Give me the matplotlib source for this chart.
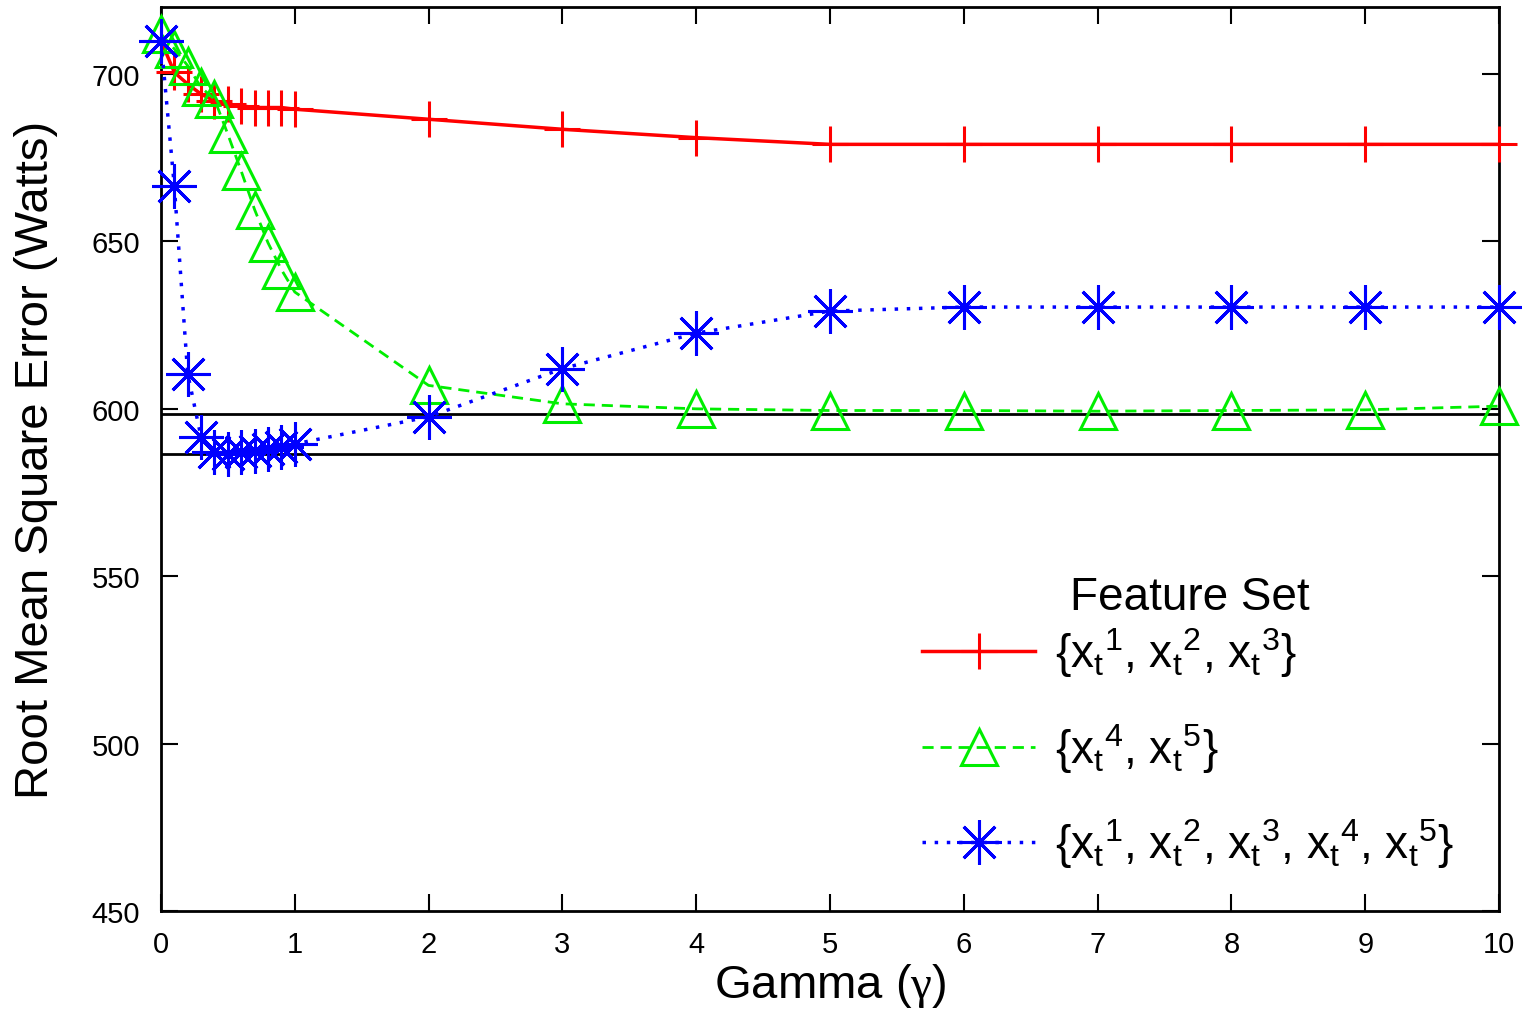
import numpy as np
import matplotlib
matplotlib.use('Agg')
import matplotlib.pyplot as plt

plt.rcParams['font.family'] = ['Liberation Sans', 'DejaVu Sans']
plt.rcParams['mathtext.fontset'] = 'custom'
plt.rcParams['mathtext.rm'] = 'Liberation Sans'
plt.rcParams['mathtext.it'] = 'Liberation Sans'
plt.rcParams['mathtext.sf'] = 'Liberation Serif'
plt.rcParams['mathtext.default'] = 'regular'

# gamma values
gamma = [0, 0.1, 0.2, 0.3, 0.4, 0.5, 0.6, 0.7, 0.8, 0.9, 1, 2, 3, 4, 5, 6, 7, 8, 9, 10]

rmse_x123 = [710, 700.5, 697, 694, 692, 691, 690.5, 690, 690, 690, 689.5,
             686.5, 683.5, 681, 679, 679, 679, 679, 679, 679]
rmse_x45 = [712, 707.5, 702.5, 696, 692.5, 682, 671, 659.5, 649.6, 641.6, 634.9,
            607, 601.5, 600, 599.5, 599.5, 599.3, 599.5, 599.7, 600.8]
rmse_all = [710, 666.5, 610.5, 591.5, 587, 586.5, 587, 587.5, 588, 588.5, 589.5,
            597.6, 612, 622.6, 629.2, 630.4, 630.4, 630.4, 630.4, 630.4]

ref_lines = [598.5, 586.5]

labels = [r'{$x_t{}^1$, $x_t{}^2$, $x_t{}^3$}',
          r'{$x_t{}^4$, $x_t{}^5$}',
          r'{$x_t{}^1$, $x_t{}^2$, $x_t{}^3$, $x_t{}^4$, $x_t{}^5$}']

fig = plt.figure(figsize=(15.27, 10.12), dpi=100)
ax = fig.add_axes([0.1054, 0.0988, 0.8763, 0.8932])

for y in ref_lines:
    ax.axhline(y, color='black', lw=2, zorder=1)

ax.plot(gamma, rmse_x123, color='red', ls='-', lw=2.5, marker='+', ms=26,
        mew=2.2, label=labels[0], clip_on=False, zorder=3)
ax.plot(gamma, rmse_x45, color='#00ee00', ls=(0, (4, 2.5)), lw=2, marker='^', ms=26,
        mew=2.2, mfc='none', label=labels[1], clip_on=False, zorder=3)
ax.plot(gamma, rmse_all, color='blue', ls=(0, (1, 2.5)), lw=2.5, marker=(8, 2, 0), ms=32,
        mew=2.2, label=labels[2], clip_on=False, zorder=4)

ax.set_xlim(0, 10)
ax.set_ylim(450, 720)
ax.set_xticks(range(0, 11))
ax.set_yticks([450, 500, 550, 600, 650, 700])
ax.tick_params(direction='in', length=12, width=1.5, top=True, right=True,
               labelsize=21)
ax.tick_params(axis='x', pad=14)
ax.tick_params(axis='y', pad=15)
for s in ax.spines.values():
    s.set_linewidth(2)

ax.set_xlabel(r'Gamma ($\mathsf{\gamma}$)', fontsize=34, labelpad=2)
ax.set_ylabel('Root Mean Square Error (Watts)', fontsize=34, labelpad=24)

leg = ax.legend(loc='lower left', bbox_to_anchor=(0.538, 0.0),
                fontsize=33, frameon=False, handlelength=2.47,
                labelspacing=0.9, handletextpad=0.44)
# legend title drawn separately so it sits closer to the entries
ax.text(0.769, 0.334, 'Feature Set', transform=ax.transAxes, ha='center',
        va='baseline', fontsize=33)

fig.savefig('out.png', dpi=100)
